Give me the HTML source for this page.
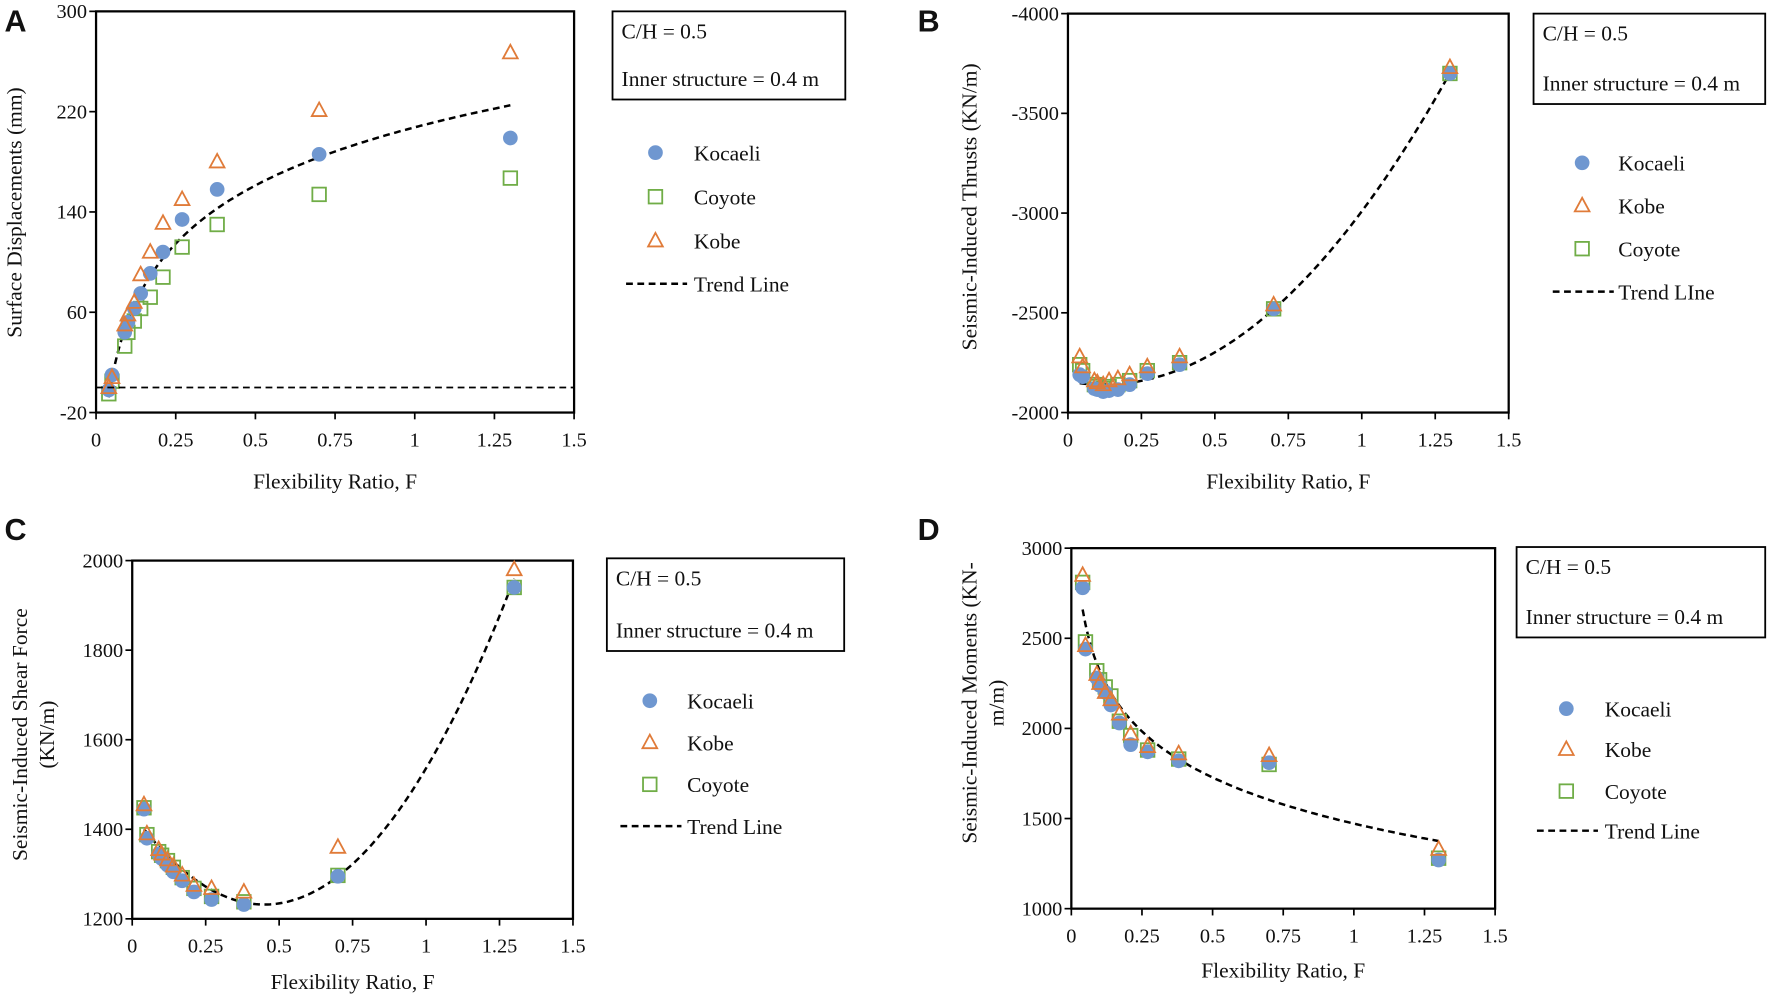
<!DOCTYPE html>
<html><head><meta charset="utf-8"><style>
html,body{margin:0;padding:0;background:#fff;}
svg{display:block;}
text{font-family:"Liberation Serif",serif;fill:#111;}
.lbl{font-family:"Liberation Sans",sans-serif;font-weight:bold;font-size:27px;}
</style></head><body>
<svg id="s" width="1772" height="998" viewBox="0 0 1568 883" xmlns="http://www.w3.org/2000/svg"></svg>
<script>
const S=document.getElementById('s');let h='';
const xs=[0.04,0.05,0.09,0.1,0.12,0.14,0.17,0.21,0.27,0.38,0.7,1.3];
const BLUE='#6f97d0',OR='#e07b39',GR='#70ad47';
function circ(x,y){return `<circle cx="${x}" cy="${y}" r="6.5" fill="${BLUE}"/>`;}
function sq(x,y){return `<rect x="${x-6}" y="${y-6}" width="12" height="12" fill="none" stroke="${GR}" stroke-width="1.6"/>`;}
function tri(x,y){return `<polygon points="${x},${y-7} ${x-6.5},${y+5} ${x+6.5},${y+5}" fill="none" stroke="${OR}" stroke-width="1.6"/>`;}
function panel(p){
 const {L,R,T,B,y0,y1,yt,ytl}=p;
 const X=v=>L+(R-L)*v/1.5, Y=v=>B-(B-T)*(v-y0)/(y1-y0);
 h+=`<rect x="${L}" y="${T}" width="${R-L}" height="${B-T}" fill="none" stroke="#000" stroke-width="2"/>`;
 [0,0.25,0.5,0.75,1,1.25,1.5].forEach((v,i)=>{const x=X(v);h+=`<line x1="${x}" y1="${B}" x2="${x}" y2="${B+6}" stroke="#000" stroke-width="1.5"/><text x="${x}" y="${B+30}" font-size="18" text-anchor="middle">${['0','0.25','0.5','0.75','1','1.25','1.5'][i]}</text>`;});
 yt.forEach((v,i)=>{const y=Y(v);h+=`<line x1="${L-6}" y1="${y}" x2="${L}" y2="${y}" stroke="#000" stroke-width="1.5"/><text x="${L-8}" y="${y+6}" font-size="18" text-anchor="end">${ytl[i]}</text>`;});
 h+=`<text x="${(L+R)/2}" y="${B+(p.xo||62)+5}" font-size="19" text-anchor="middle">Flexibility Ratio, F</text>`;
 let d='';for(let x=0.04;x<=1.3001;x+=0.01){d+=(d?'L':'M')+X(x).toFixed(1)+','+Y(p.f(x)).toFixed(1);}
 h+=`<path d="${d}" fill="none" stroke="#000" stroke-width="2.2" stroke-dasharray="6,4"/>`;
 xs.forEach((x,i)=>{h+=sq(X(x),Y(p.g[i]));});
 xs.forEach((x,i)=>{h+=circ(X(x),Y(p.k[i]));});
 xs.forEach((x,i)=>{h+=tri(X(x),Y(p.o[i]));});
 p.X=X;p.Y=Y;
}
function box(x,y,w,hh){h+=`<rect x="${x}" y="${y}" width="${w}" height="${hh}" fill="#fff" stroke="#000" stroke-width="1.6"/><text x="${x+8}" y="${y+24}" font-size="19">C/H = 0.5</text><text x="${x+8}" y="${y+hh-12}" font-size="19">Inner structure = 0.4 m</text>`;}
function legend(mx,tx,ys,order){const f={k:circ,o:tri,g:sq};const n={k:'Kocaeli',o:'Kobe',g:'Coyote'};
 order.forEach((c,i)=>{h+=f[c](mx,ys[i])+`<text x="${tx}" y="${ys[i]+7}" font-size="19">${n[c]}</text>`;});
 const y=ys[3];h+=`<line x1="${mx-26}" y1="${y}" x2="${mx+28}" y2="${y}" stroke="#000" stroke-width="2.2" stroke-dasharray="6,4"/><text x="${tx}" y="${y+7}" font-size="19">${order.t||'Trend Line'}</text>`;}
const pA={L:85,R:508,T:10,B:365,y0:-20,y1:300,yt:[-20,60,140,220,300],ytl:['-20','60','140','220','300'],
 f:x=>207.5+66.9*Math.log(x),
 k:[-2,10,44,52,63,75,91,108,134,158,186,199],
 g:[-5,5,33,44,53,63,72,88,112,130,154,167],
 o:[0,8,50,58,68,90,108,131,150,180,221,267]};
panel(pA);
h+=`<line x1="85" y1="${pA.Y(0)}" x2="508" y2="${pA.Y(0)}" stroke="#000" stroke-width="1.6" stroke-dasharray="6,4"/>`;
box(542,10,206,78);legend(580,614,[135,174,213,251],['k','g','o']);
h+=`<text transform="translate(19,188) rotate(-90)" font-size="19" text-anchor="middle">Surface Displacements (mm)</text>`;
const pB={L:945,R:1335,T:12,B:365,y0:-2000,y1:-4000,yt:[-2000,-2500,-3000,-3500,-4000],ytl:['-2000','-2500','-3000','-3500','-4000'],
 f:x=>-(2140+1122*(x-0.12)**2),
 k:[2190,2180,2120,2115,2105,2110,2115,2140,2195,2240,2520,3700].map(v=>-v),
 o:[2280,2230,2160,2150,2140,2160,2170,2190,2230,2280,2540,3730].map(v=>-v),
 g:[2240,2210,2140,2130,2120,2130,2140,2160,2210,2250,2520,3700].map(v=>-v)};
panel(pB);box(1357,12,205,80);const lb=['k','o','g'];lb.t='Trend LIne';legend(1400,1432,[144,182,220,258],lb);
h+=`<text transform="translate(864,183) rotate(-90)" font-size="19" text-anchor="middle">Seismic-Induced Thrusts (KN/m)</text>`;
const pC={L:117,R:507,T:496,B:813,xo:57,y0:1200,y1:2000,yt:[1200,1400,1600,1800,2000],ytl:['1200','1400','1600','1800','2000'],
 f:x=>1232+1002*(x-0.45)**2+6*(x-0.45)**3,
 k:[1445,1380,1345,1335,1320,1305,1285,1260,1243,1232,1295,1940],
 o:[1455,1390,1355,1345,1332,1318,1298,1275,1268,1260,1360,1980],
 g:[1448,1388,1350,1342,1330,1315,1292,1268,1250,1238,1297,1940]};
panel(pC);box(537,494,210,82);legend(575,608,[620,657,694,731],['k','o','g']);
h+=`<text transform="translate(24,650) rotate(-90)" font-size="19" text-anchor="middle">Seismic-Induced Shear Force</text><text transform="translate(48,650) rotate(-90)" font-size="19" text-anchor="middle">(KN/m)</text>`;
const pD={L:948,R:1323,T:485,B:804,xo:56,y0:1000,y1:3000,yt:[1000,1500,2000,2500,3000],ytl:['1000','1500','2000','2500','3000'],
 f:x=>1472-369*Math.log(x),
 k:[2780,2440,2280,2240,2200,2130,2030,1910,1870,1820,1810,1270],
 o:[2850,2460,2300,2250,2200,2160,2080,1970,1900,1860,1850,1330],
 g:[2810,2480,2320,2270,2230,2180,2040,1960,1880,1830,1800,1280]};
panel(pD);box(1342,484,220,80);legend(1386,1420,[627,663,700,735],['k','o','g']);
h+=`<text transform="translate(864,622) rotate(-90)" font-size="19" text-anchor="middle">Seismic-Induced Moments (KN-</text><text transform="translate(888,622) rotate(-90)" font-size="19" text-anchor="middle">m/m)</text>`;
h+=`<text class="lbl" x="4" y="28">A</text><text class="lbl" x="812" y="28">B</text><text class="lbl" x="4" y="478">C</text><text class="lbl" x="812" y="478">D</text>`;
S.innerHTML=h;
</script>
</body></html>
